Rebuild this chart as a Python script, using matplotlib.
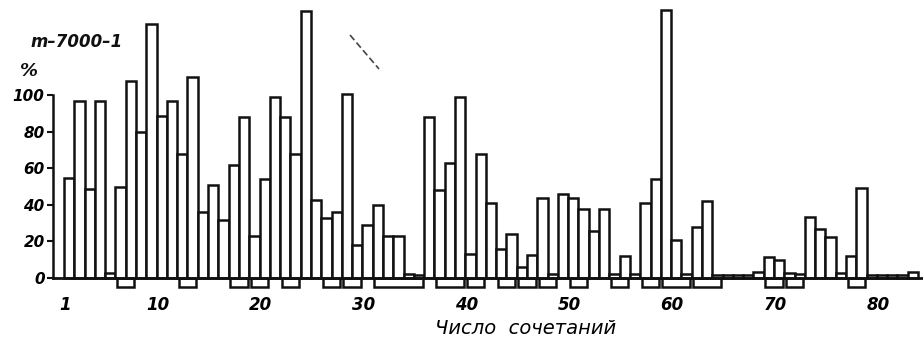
import matplotlib
matplotlib.use("Agg")
import matplotlib.pyplot as plt
from matplotlib.lines import Line2D

# ---- data ----
bar_numbers = list(range(1, 84))
percent = [55, 97, 49, 97, 3, 50, 108, 80, 139, 89,
           97, 68, 110, 36, 51, 32, 62, 88, 23, 54,
           99, 88, 68, 146, 43, 33, 36, 101, 18, 29,
           40, 23, 23, 2, 1.5, 88, 48, 63, 99, 13,
           68, 41, 16, 24, 6, 12.5, 44, 2, 46, 44,
           38, 26, 38, 2, 12, 2, 41, 54, 147, 21,
           2, 28, 42, 1.5, 1.5, 1.5, 1.5, 3.5, 11.5, 10,
           3, 2, 33.5, 27, 22.5, 2.5, 12, 49.5, 1.5, 1.5,
           1.5, 1.5, 3.5]

# groups marked by the open brackets under the axis (first bar, last bar)
group_start = [6, 12, 17, 19, 22, 26, 28, 31, 37, 40, 43, 45, 47, 50, 54, 57, 59, 62, 69, 71, 77]
group_end   = [7, 13, 18, 20, 23, 27, 29, 35, 39, 41, 44, 46, 48, 51, 55, 58, 61, 64, 70, 72, 78]
group_depth = -5

x_tick_values = [1, 10, 20, 30, 40, 50, 60, 70, 80]
y_tick_values = [0, 20, 40, 60, 80, 100]

# ---- figure ----
W, H = 923, 339
fig = plt.figure(figsize=(W / 100, H / 100), dpi=100)
fig.patch.set_facecolor("white")

ax = fig.add_axes([53 / W, 1 - 290 / H, 870 / W, 290 / H])
ax.set_facecolor("none")

lw = 1.8
ink = "#111111"

ax.bar(bar_numbers, percent, width=1.0, facecolor="white",
       edgecolor=ink, linewidth=lw, zorder=3)

centers = [(s + e) / 2 for s, e in zip(group_start, group_end)]
widths = [(e - s + 1) - 0.3 for s, e in zip(group_start, group_end)]
ax.bar(centers, [group_depth] * len(centers), width=widths, bottom=0,
       facecolor="white", edgecolor=ink, linewidth=lw, zorder=2)

ax.set_xlim(-0.57, 83.98)
ax.set_ylim(-6.58, 152.3)

for s in ["top", "right"]:
    ax.spines[s].set_visible(False)
ax.spines["left"].set_bounds(0, 100)
ax.spines["left"].set_linewidth(lw)
ax.spines["left"].set_color(ink)
ax.spines["bottom"].set_position(("data", 0))
ax.spines["bottom"].set_linewidth(2.0)
ax.spines["bottom"].set_color(ink)
ax.spines["bottom"].set_zorder(4)

ax.set_yticks(y_tick_values)
ax.set_yticklabels([str(v) for v in y_tick_values])
ax.tick_params(axis="y", length=4.5, width=1.5, pad=1.5, color=ink,
               labelsize=11)
for t in ax.get_yticklabels():
    t.set_fontstyle("italic")
    t.set_fontweight("bold")

ax.set_xticks([v - 0.4 for v in x_tick_values])
ax.set_xticklabels([str(v) for v in x_tick_values])
ax.tick_params(axis="x", length=0, pad=13, labelsize=12)
for t in ax.get_xticklabels():
    t.set_fontstyle("italic")
    t.set_fontweight("bold")

ax.set_xlabel("Число  сочетаний", fontsize=14, fontstyle="italic")
ax.xaxis.set_label_coords((526 - 53) / 870, -(328 - 290) / 290)
ax.xaxis.label.set_va("center")

fig.text(30 / W, 1 - 47 / H, "m–7000–1", fontsize=12, fontstyle="italic",
         fontweight="bold", ha="left", va="baseline", color=ink)
fig.text(20 / W, 1 - 76 / H, "%", fontsize=13, fontstyle="italic",
         fontweight="bold", ha="left", va="baseline", color=ink)

# scan mark in the original
fig.add_artist(Line2D([350 / W, 379 / W], [1 - 35 / H, 1 - 69 / H],
                      transform=fig.transFigure, color="#444444",
                      linewidth=1.2, linestyle=(0, (4, 2))))

fig.savefig("out.png", dpi=100, facecolor="white")
